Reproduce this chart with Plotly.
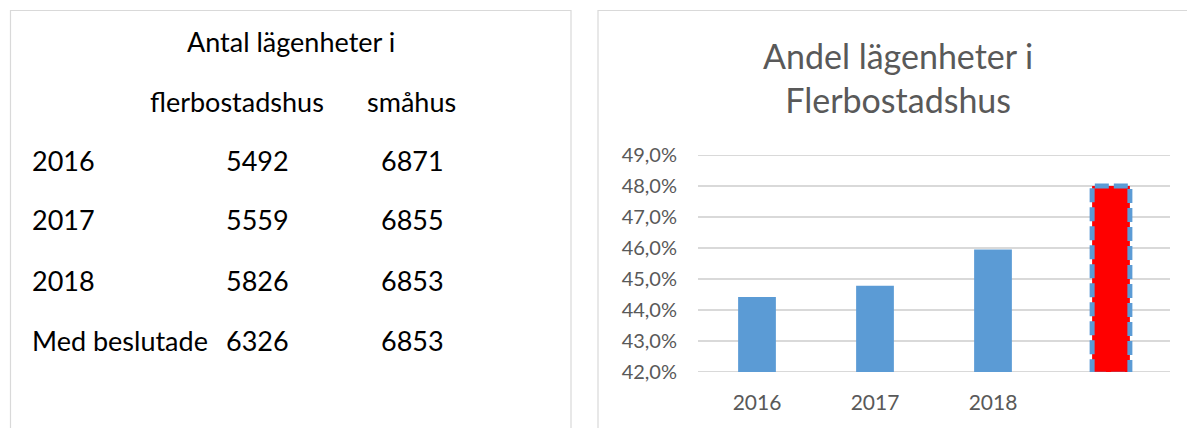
import plotly.graph_objects as go

# Data
table_title = "Antal lägenheter i"
col_headers = ["flerbostadshus", "småhus"]
row_labels = ["2016", "2017", "2018", "Med beslutade"]
flerbostadshus = [5492, 5559, 5826, 6326]
smahus = [6871, 6855, 6853, 6853]

chart_title = "Andel lägenheter i<br>Flerbostadshus"
bar_labels = ["2016", "2017", "2018", ""]
andel = [44.42, 44.78, 45.95, 48.0]
y_ticks = [42, 43, 44, 45, 46, 47, 48, 49]
y_ticktext = [f"{v:.1f}%".replace(".", ",") for v in y_ticks]

W, H = 1187, 428
FONT = "Lato"
BLUE = "#5b9bd5"
RED = "#ff0000"
GREY_TXT = "#595959"

def px(x):
    return x / W

def py(y):
    return 1 - y / H

bar_width = 0.32
colors = [BLUE] * (len(andel) - 1) + [RED]

fig = go.Figure()
fig.add_trace(go.Bar(
    x=list(range(len(andel))), y=andel, width=bar_width,
    marker=dict(color=colors, line=dict(width=0)),
    hoverinfo="skip", showlegend=False,
))

# dashed outline around the highlighted last bar
last = len(andel) - 1
fig.add_shape(type="rect", xref="x", yref="y",
              x0=last - bar_width / 2, x1=last + bar_width / 2,
              y0=41.93, y1=andel[last],
              line=dict(color=BLUE, width=5, dash="14px,5px"),
              fillcolor="rgba(0,0,0,0)", layer="above")

fig.update_layout(
    width=W, height=H,
    autosize=False,
    margin=dict(l=0, r=0, t=0, b=0, pad=0),
    paper_bgcolor="white", plot_bgcolor="white",
    showlegend=False,
    font=dict(family=FONT, color=GREY_TXT),
    xaxis=dict(
        domain=[px(698), px(1170)],
        tickvals=list(range(len(andel))), ticktext=bar_labels,
        range=[-0.5, len(andel) - 0.5],
        showgrid=False, showline=False, zeroline=False, ticks="",
        tickfont=dict(size=21, color=GREY_TXT, family=FONT),
        ticklabelstandoff=16, automargin=False,
    ),
    yaxis=dict(
        domain=[py(372), py(155)],
        range=[42, 49.0],
        tickvals=y_ticks, ticktext=y_ticktext,
        showgrid=True, gridcolor="#d9d9d9", gridwidth=2,
        zeroline=False, showline=False, ticks="",
        tickfont=dict(size=20, color=GREY_TXT, family=FONT),
        ticklabelstandoff=20, automargin=False,
    ),
)

# gridlines at the range edges
for yv in (y_ticks[0], y_ticks[-1]):
    fig.add_shape(type="line", xref="x domain", yref="y", x0=0, x1=1, y0=yv, y1=yv,
                  line=dict(color="#d9d9d9", width=2), layer="below")

# panel borders
fig.add_shape(type="rect", xref="paper", yref="paper",
              x0=px(10.5), x1=px(571), y0=-0.1, y1=py(10.5),
              line=dict(color="#d9d9d9", width=1.2))
fig.add_shape(type="rect", xref="paper", yref="paper",
              x0=px(598), x1=1.1, y0=-0.1, y1=py(10.5),
              line=dict(color="#d9d9d9", width=1.2))

# chart title
fig.add_annotation(text=chart_title, xref="paper", yref="paper",
                   x=px(898), y=py(77), showarrow=False,
                   font=dict(size=34, color=GREY_TXT, family=FONT),
                   xanchor="center", yanchor="middle")

# left text table
TXT = dict(size=27, color="#000000", family=FONT)
def txt(s, x, y, anchor="left"):
    fig.add_annotation(text=s, xref="paper", yref="paper", x=px(x), y=py(y),
                       showarrow=False, font=TXT, xanchor=anchor, yanchor="middle")

txt(table_title, 291, 41, "center")
txt(col_headers[0], 237, 101, "center")
txt(col_headers[1], 411, 101, "center")
row_y = [160, 219, 280, 340]
for lbl, a, b, yy in zip(row_labels, flerbostadshus, smahus, row_y):
    txt(lbl, 30, yy)
    txt(str(a), 224, yy)
    txt(str(b), 379, yy)

fig.write_html("out.html",
               config={"displayModeBar": False, "staticPlot": True},
               post_script="document.body.style.margin='0';document.body.style.overflow='hidden';")
